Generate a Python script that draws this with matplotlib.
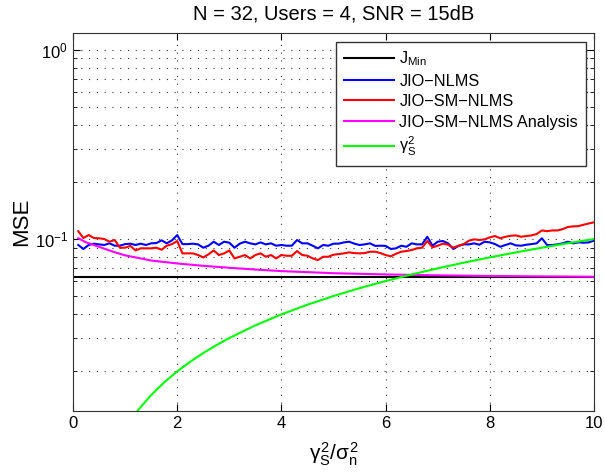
import matplotlib
matplotlib.use("Agg")
import matplotlib.pyplot as plt
from matplotlib.ticker import LogLocator, NullFormatter, MultipleLocator

plt.rcParams['font.family'] = ['Liberation Sans', 'DejaVu Sans']
plt.rcParams['mathtext.fontset'] = 'custom'
plt.rcParams['mathtext.rm'] = 'Liberation Sans'
plt.rcParams['mathtext.it'] = 'Liberation Sans'
plt.rcParams['mathtext.bf'] = 'Liberation Sans:bold'

# x axis: gamma_S^2 / sigma_n^2, step 0.1
x = [round(0.1 * k, 1) for k in range(1, 101)]

# JIO-NLMS
nlms = [0.093, 0.0886, 0.093, 0.0945, 0.0937, 0.093, 0.0949, 0.0922, 0.0922, 0.094,
        0.0945, 0.093, 0.0945, 0.093, 0.0949, 0.0952, 0.0984, 0.0949, 0.0984, 0.105,
        0.094, 0.094, 0.0945, 0.0937, 0.090, 0.0922, 0.0968, 0.093, 0.0968, 0.0956,
        0.090, 0.0945, 0.0968, 0.0949, 0.0937, 0.096, 0.0937, 0.0949, 0.0922, 0.093,
        0.0922, 0.0922, 0.0988, 0.0949, 0.0949, 0.0922, 0.0893, 0.093, 0.0922, 0.0945,
        0.0945, 0.096, 0.0968, 0.0945, 0.093, 0.0937, 0.0949, 0.092, 0.0922, 0.092,
        0.0886, 0.0893, 0.0922, 0.091, 0.0949, 0.0937, 0.0937, 0.1028, 0.0922, 0.0968,
        0.0976, 0.0949, 0.0886, 0.092, 0.0937, 0.0937, 0.0949, 0.0933, 0.0968, 0.096,
        0.094, 0.091, 0.093, 0.0949, 0.0926, 0.0922, 0.0933, 0.094, 0.0949, 0.1009,
        0.093, 0.093, 0.0937, 0.0949, 0.0968, 0.0949, 0.096, 0.0956, 0.096, 0.098]

# JIO-SM-NLMS
sm_nlms = [0.110, 0.1012, 0.105, 0.1012, 0.1009, 0.100, 0.0968, 0.0988, 0.090, 0.090,
           0.092, 0.087, 0.0893, 0.0893, 0.0893, 0.090, 0.0878, 0.0922, 0.094, 0.0976,
           0.084, 0.084, 0.084, 0.0823, 0.080, 0.083, 0.087, 0.0823, 0.084, 0.087,
           0.079, 0.0806, 0.0823, 0.079, 0.0823, 0.084, 0.0806, 0.0823, 0.079, 0.0823,
           0.0816, 0.0816, 0.0864, 0.0823, 0.0816, 0.079, 0.0774, 0.0806, 0.0806, 0.0826,
           0.0833, 0.084, 0.085, 0.0843, 0.084, 0.0843, 0.0857, 0.0857, 0.0843, 0.0823,
           0.081, 0.0836, 0.0857, 0.0864, 0.0875, 0.0893, 0.090, 0.0976, 0.0904, 0.0922,
           0.0945, 0.0933, 0.090, 0.0922, 0.094, 0.098, 0.0996, 0.0988, 0.0996, 0.102,
           0.1037, 0.1009, 0.1028, 0.104, 0.1045, 0.1028, 0.1037, 0.1045, 0.1063, 0.111,
           0.110, 0.111, 0.111, 0.1128, 0.1158, 0.1166, 0.117, 0.119, 0.1208, 0.1225]

# JIO-SM-NLMS analysis
x_an = [0.1, 0.25, 0.5, 0.75, 1, 1.5, 2, 2.5, 3, 3.5, 4, 5, 6, 7, 8, 9, 10]
analysis = [0.101, 0.096, 0.091, 0.086, 0.082, 0.077, 0.0743, 0.0722, 0.0705,
            0.069, 0.0677, 0.066, 0.065, 0.0643, 0.0638, 0.0635, 0.0632]

# J_min
j_min = 0.0627

# gamma_S^2 bound
x_g = [1.0, 1.25, 1.5, 1.75, 2.0, 2.25, 2.5, 2.75, 3.0, 3.5, 4.0, 4.5, 5.0, 5.5,
       6.0, 6.5, 7.0, 7.5, 8.0, 8.5, 9.0, 9.5, 10.0]
gamma = [0.010, 0.0125, 0.015, 0.0175, 0.020, 0.0225, 0.025, 0.0275, 0.030, 0.035,
         0.040, 0.045, 0.050, 0.055, 0.060, 0.065, 0.070, 0.075, 0.080, 0.085,
         0.090, 0.095, 0.100]

fig = plt.figure(figsize=(6.05, 4.72), dpi=100)
ax = fig.add_axes([0.1207, 0.1299, 0.8611, 0.7995])

lw = 1.5
ax.plot([0, 10], [j_min, j_min], color='black', lw=lw, label=r'J$_{\mathrm{Min}}$')
ax.plot(x, nlms, color='#0000ff', lw=lw, label='JIO\u2212NLMS')
ax.plot(x, sm_nlms, color='#ff0000', lw=lw, label='JIO\u2212SM\u2212NLMS')
ax.plot(x_an, analysis, color='#ff00ff', lw=lw, label='JIO\u2212SM\u2212NLMS Analysis')
ax.plot(x_g, gamma, color='#00ff00', lw=lw, label=r'$\gamma^2_\mathrm{S}$')

ax.set_yscale('log')
ax.set_xlim(0, 10)
ax.set_ylim(0.0124, 1.22)
ax.xaxis.set_major_locator(MultipleLocator(2))
ax.yaxis.set_major_locator(LogLocator(base=10))
ax.yaxis.set_minor_locator(LogLocator(base=10, subs=range(2, 10)))
ax.yaxis.set_minor_formatter(NullFormatter())

dots = (0, (1, 6))
ax.grid(True, which='major', linestyle=dots, color='#333333', lw=0.8)
ax.grid(True, which='minor', axis='y', linestyle=dots, color='#333333', lw=0.8)
ax.tick_params(direction='in', top=True, right=True, labelsize=12, length=5)
ax.tick_params(which='minor', direction='in', right=True, length=3)
for s in ax.spines.values():
    s.set_color('#333333')

ax.set_title('N = 32, Users = 4, SNR = 15dB', fontsize=14.5, pad=10)
ax.set_ylabel('MSE', fontsize=16, labelpad=2)
ax.set_xlabel(r'$\gamma^2_\mathrm{S}/\sigma^2_\mathrm{n}$', fontsize=15, labelpad=7)

leg = ax.legend(loc='upper right', bbox_to_anchor=(0.985, 0.978), borderaxespad=0,
                fontsize=11.7, handlelength=3.1, handletextpad=0.3, borderpad=0.5,
                fancybox=False, framealpha=1, edgecolor='#333333', labelspacing=0.33)
leg.get_frame().set_linewidth(1.0)

fig.savefig('out.png', dpi=100)
